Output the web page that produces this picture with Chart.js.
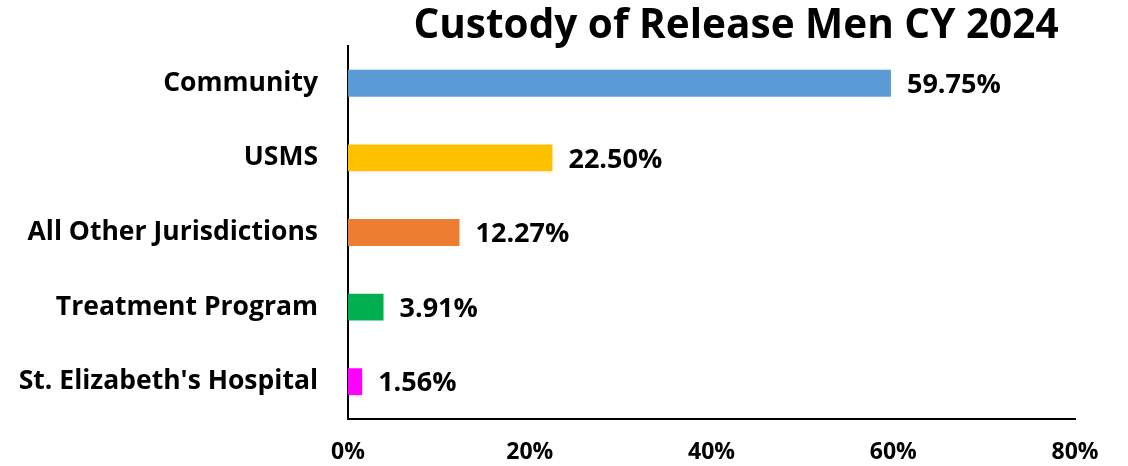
<!DOCTYPE html>
<html>
<head>
<meta charset="utf-8">
<script src="https://cdn.jsdelivr.net/npm/chart.js@4.4.1/dist/chart.umd.min.js"></script>
<style>
  html, body { margin: 0; padding: 0; background: #fff; }
  #wrap { width: 1128px; height: 466px; position: relative; }
</style>
</head>
<body>
<div id="wrap"><canvas id="custodyChart" width="1128" height="466"></canvas></div>
<script>
// data
const categories = ["Community", "USMS", "All Other Jurisdictions", "Treatment Program", "St. Elizabeth's Hospital"];
const shares = [59.75, 22.50, 12.27, 3.91, 1.56];
const barColors = ["#5B9BD5", "#FFC000", "#ED7D31", "#00B050", "#FF00FF"];
const xTicks = [0, 20, 40, 60, 80];
const chartTitle = "Custody of Release Men CY 2024";

const FONT = "'Open Sans', sans-serif";

// value labels at the end of each bar
const barLabels = {
  id: "barLabels",
  afterDatasetsDraw(chart) {
    const ctx = chart.ctx;
    const meta = chart.getDatasetMeta(0);
    ctx.save();
    ctx.font = "bold 27px " + FONT;
    ctx.fillStyle = "#000";
    ctx.textAlign = "left";
    ctx.textBaseline = "middle";
    meta.data.forEach((bar, i) => {
      ctx.fillText(shares[i].toFixed(2) + "%", bar.x + 16, bar.y + 2);
    });
    ctx.restore();
  },
};

// title sits a bit right of center, like the original
const titlePlugin = {
  id: "titlePlugin",
  afterDraw(chart) {
    const ctx = chart.ctx;
    ctx.save();
    ctx.font = "bold 40.5px " + FONT;
    ctx.fillStyle = "#000";
    ctx.textAlign = "center";
    ctx.textBaseline = "middle";
    ctx.fillText(chartTitle, 736, 26);
    ctx.restore();
  },
};

new Chart(document.getElementById("custodyChart"), {
  type: "bar",
  data: {
    labels: categories,
    datasets: [
      {
        data: shares,
        backgroundColor: barColors,
        borderWidth: 0,
        barPercentage: 0.6,
        categoryPercentage: 0.6,
      },
    ],
  },
  options: {
    indexAxis: "y",
    responsive: false,
    animation: false,
    layout: { padding: { top: 45, right: 53, left: 0, bottom: 0 } },
    plugins: {
      legend: { display: false },
      tooltip: { enabled: false },
      title: { display: false },
    },
    scales: {
      x: {
        min: 0,
        max: 80,
        afterBuildTicks: (axis) => {
          axis.ticks = xTicks.map((v) => ({ value: v }));
        },
        grid: { display: false, drawTicks: false },
        border: { display: true, color: "#000", width: 2 },
        ticks: {
          color: "#000",
          padding: 20,
          maxRotation: 0,
          font: { family: FONT, size: 23, weight: "bold" },
          callback: (v) => v + "%",
        },
        afterFit: (axis) => {
          axis.height = 47;
        },
      },
      y: {
        grid: { display: false, drawTicks: false },
        border: { display: true, color: "#000", width: 2 },
        ticks: {
          color: "#000",
          padding: 30,
          font: { family: FONT, size: 26.5, weight: "bold" },
        },
        afterFit: (axis) => {
          axis.width = 348;
        },
      },
    },
  },
  plugins: [barLabels, titlePlugin],
});
</script>
</body>
</html>
